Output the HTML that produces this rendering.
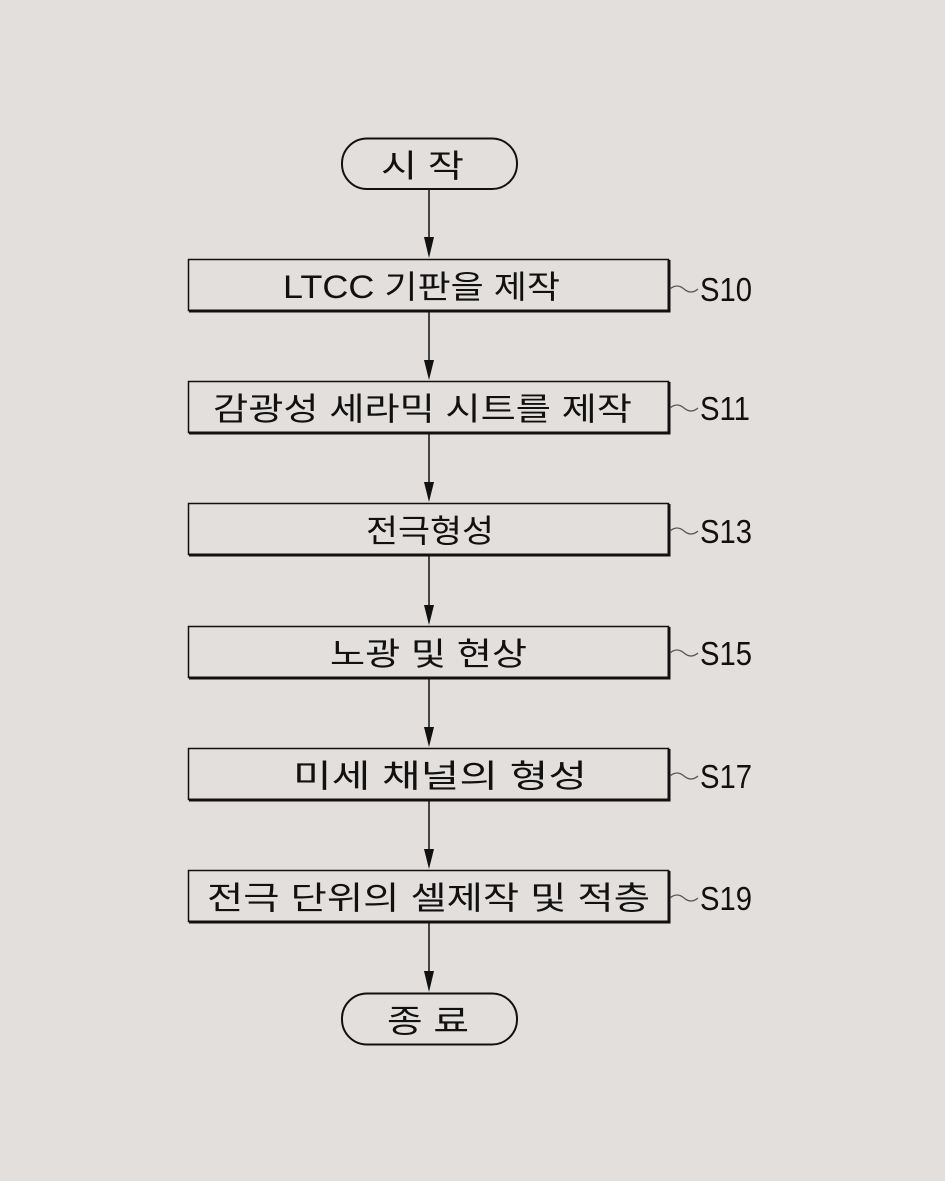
<!DOCTYPE html>
<html><head><meta charset="utf-8"><style>
html,body{margin:0;padding:0;background:#e3dfdc;}
svg{display:block}
text{font-family:"Liberation Sans","Noto Sans CJK KR","NanumGothic",sans-serif;fill:#111;}
</style></head><body>
<svg width="945" height="1181" viewBox="0 0 945 1181" xmlns="http://www.w3.org/2000/svg">
<rect width="945" height="1181" fill="#e3dfdc"/>
<g fill="#111">
<line x1="429" y1="189" x2="429" y2="238" stroke="#111" stroke-width="1.5"/>
<path d="M424,237 L434,237 L429,258 Z"/>
<line x1="429" y1="311" x2="429" y2="361" stroke="#111" stroke-width="1.5"/>
<path d="M424,360 L434,360 L429,380 Z"/>
<line x1="429" y1="433" x2="429" y2="483" stroke="#111" stroke-width="1.5"/>
<path d="M424,482 L434,482 L429,502 Z"/>
<line x1="429" y1="555" x2="429" y2="606" stroke="#111" stroke-width="1.5"/>
<path d="M424,605 L434,605 L429,625 Z"/>
<line x1="429" y1="678" x2="429" y2="728" stroke="#111" stroke-width="1.5"/>
<path d="M424,727 L434,727 L429,747 Z"/>
<line x1="429" y1="800" x2="429" y2="850" stroke="#111" stroke-width="1.5"/>
<path d="M424,849 L434,849 L429,869 Z"/>
<line x1="429" y1="922" x2="429" y2="972" stroke="#111" stroke-width="1.5"/>
<path d="M424,971 L434,971 L429,992 Z"/>
</g>
<rect x="342" y="138.5" width="175" height="50.5" rx="25" fill="none" stroke="#111" stroke-width="2"/>
<rect x="342" y="993.5" width="175" height="51" rx="25" fill="none" stroke="#111" stroke-width="2"/>
<g fill="none" stroke="#111" stroke-width="1.5">
<rect x="188.5" y="259.5" width="480" height="51"/>
<rect x="188.5" y="381.5" width="480" height="51"/>
<rect x="188.5" y="503.5" width="480" height="51"/>
<rect x="188.5" y="626.5" width="480" height="51"/>
<rect x="188.5" y="748.5" width="480" height="51"/>
<rect x="188.5" y="870.5" width="480" height="51"/>
</g>
<g fill="none" stroke="#111" stroke-width="3">
<path d="M189,311 H669 V260"/><path d="M189,433 H669 V382"/><path d="M189,555 H669 V504"/>
<path d="M189,678 H669 V627"/><path d="M189,800 H669 V749"/><path d="M189,922 H669 V871"/>
</g>
<g fill="none" stroke="#555" stroke-width="1.2">
<path d="M670,289 q7,-6 14,0 t14,0"/>
<path d="M670,408 q7,-6 14,0 t14,0"/>
<path d="M670,531 q7,-6 14,0 t14,0"/>
<path d="M670,653 q7,-6 14,0 t14,0"/>
<path d="M670,776 q7,-6 14,0 t14,0"/>
<path d="M670,898 q7,-6 14,0 t14,0"/>
</g>
<g font-size="32">
<text x="381" y="177" textLength="83" lengthAdjust="spacingAndGlyphs">시 작</text>
<text x="387" y="1032" textLength="82" lengthAdjust="spacingAndGlyphs">종 료</text>
<text x="283" y="298" textLength="277" lengthAdjust="spacingAndGlyphs">LTCC 기판을 제작</text>
<text x="213" y="420" textLength="419" lengthAdjust="spacingAndGlyphs">감광성 세라믹 시트를 제작</text>
<text x="366" y="542" textLength="128" lengthAdjust="spacingAndGlyphs">전극형성</text>
<text x="330" y="665" textLength="197" lengthAdjust="spacingAndGlyphs">노광 및 현상</text>
<text x="293" y="787" textLength="294" lengthAdjust="spacingAndGlyphs">미세 채널의 형성</text>
<text x="207" y="909" textLength="443" lengthAdjust="spacingAndGlyphs">전극 단위의 셀제작 및 적층</text>
</g>
<g font-size="33">
<text x="700" y="301" textLength="52" lengthAdjust="spacingAndGlyphs">S10</text>
<text x="700" y="420" textLength="50" lengthAdjust="spacingAndGlyphs">S11</text>
<text x="700" y="543" textLength="52" lengthAdjust="spacingAndGlyphs">S13</text>
<text x="700" y="665" textLength="52" lengthAdjust="spacingAndGlyphs">S15</text>
<text x="700" y="788" textLength="52" lengthAdjust="spacingAndGlyphs">S17</text>
<text x="700" y="910" textLength="52" lengthAdjust="spacingAndGlyphs">S19</text>
</g>
</svg>
</body></html>
